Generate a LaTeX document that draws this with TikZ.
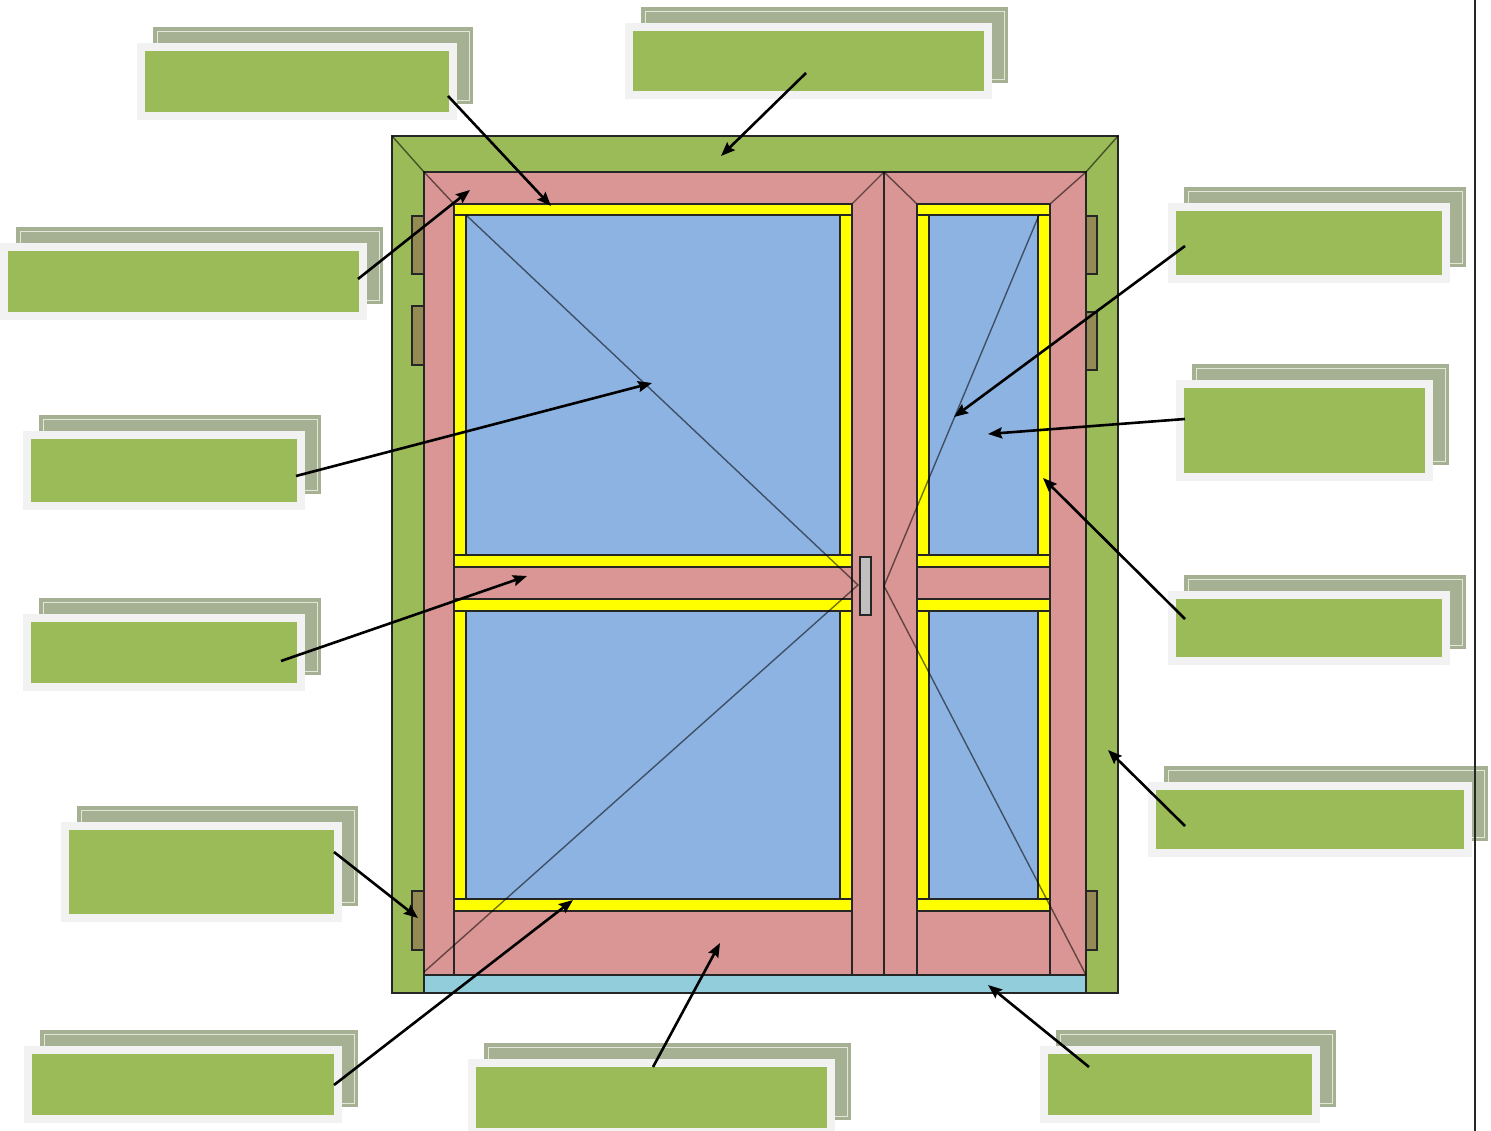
\documentclass[tikz,border=0pt]{standalone}
\usetikzlibrary{arrows.meta}
\definecolor{fgreen}{HTML}{9BBB59}
\definecolor{boxrim}{HTML}{F2F2F2}
\definecolor{shadowc}{HTML}{A6B194}
\definecolor{shadowln}{HTML}{E2E7DA}
\definecolor{pinkc}{HTML}{D99694}
\definecolor{glassc}{HTML}{8DB3E2}
\definecolor{sillc}{HTML}{92CDDC}
\definecolor{hingec}{HTML}{948A54}
\definecolor{handlec}{HTML}{C0C0C0}
\definecolor{yelc}{HTML}{FFFF00}
\definecolor{olc}{HTML}{262626}
\newcommand{\wlbox}[5]{%
  \fill[shadowc] ({#2+16},{#3-16}) rectangle ({#4+16},{#5-16});
  \draw[shadowln, line width=0.8pt] ({#2+20},{#3-12}) rectangle ({#4+12},{#5-20});
  \node[lbox, minimum width={#4-#2-8}, minimum height={#5-#3-8}] (#1) at ({(#2+#4)/2},{(#3+#5)/2}) {};
}
\begin{document}
\begin{tikzpicture}[x=1pt,y=-1pt,
  ol/.style={draw=olc, line width=1.7pt},
  dg/.style={draw=black, line width=1.4pt, opacity=0.55},
  lbox/.style={rectangle, fill=fgreen, draw=boxrim, line width=8pt, inner sep=0pt, outer sep=0pt},
  arr/.style={draw=black, line width=2.6pt, -{Stealth[length=14pt,width=11pt,inset=2pt]}}]
\useasboundingbox (0,0) rectangle (1491,1131);
\fill[white] (0,0) rectangle (1491,1131);

% ---- window ----
\draw[ol, fill=fgreen] (392,136) rectangle (1118,993);
\draw[ol, fill=sillc] (424,975) rectangle (1086,993);
\draw[ol, fill=pinkc] (424,172) rectangle (884,975);
\draw[ol, fill=pinkc] (884,172) rectangle (1086,975);
\draw[ol] (454,204) -- (454,975);
\draw[ol] (852,204) -- (852,975);
\draw[ol] (917,204) -- (917,975);
\draw[ol] (1050,204) -- (1050,975);
% miters
\draw[dg] (392,136) -- (424,172);
\draw[dg] (1118,136) -- (1086,172);
\draw[dg] (424,172) -- (454,204);
\draw[dg] (884,172) -- (852,204);
\draw[dg] (884,172) -- (917,204);
\draw[dg] (1086,172) -- (1050,204);
% glass
\draw[ol, fill=glassc] (466,215) rectangle (840,555);
\draw[ol, fill=glassc] (466,611) rectangle (840,899);
\draw[ol, fill=glassc] (929,215) rectangle (1038,555);
\draw[ol, fill=glassc] (929,611) rectangle (1038,899);
% yellow bars left sash
\draw[ol, fill=yelc] (454,204) rectangle (852,215);
\draw[ol, fill=yelc] (454,215) rectangle (466,555);
\draw[ol, fill=yelc] (840,215) rectangle (852,555);
\draw[ol, fill=yelc] (454,555) rectangle (852,567);
\draw[ol, fill=yelc] (454,599) rectangle (852,611);
\draw[ol, fill=yelc] (454,611) rectangle (466,899);
\draw[ol, fill=yelc] (840,611) rectangle (852,899);
\draw[ol, fill=yelc] (454,899) rectangle (852,911);
% yellow bars right sash
\draw[ol, fill=yelc] (917,204) rectangle (1050,215);
\draw[ol, fill=yelc] (917,215) rectangle (929,555);
\draw[ol, fill=yelc] (1038,215) rectangle (1050,555);
\draw[ol, fill=yelc] (917,555) rectangle (1050,567);
\draw[ol, fill=yelc] (917,599) rectangle (1050,611);
\draw[ol, fill=yelc] (917,611) rectangle (929,899);
\draw[ol, fill=yelc] (1038,611) rectangle (1050,899);
\draw[ol, fill=yelc] (917,899) rectangle (1050,911);
% opening diagonals
\draw[dg] (466,215) -- (858,585) -- (424,972);
\draw[dg] (1039,215) -- (884,586) -- (1086,975);
% hinges
\draw[ol, fill=hingec] (412,216) rectangle (424,274);
\draw[ol, fill=hingec] (412,306) rectangle (424,365);
\draw[ol, fill=hingec] (412,891) rectangle (424,950);
\draw[ol, fill=hingec] (1086,216) rectangle (1097,274);
\draw[ol, fill=hingec] (1086,312) rectangle (1097,370);
\draw[ol, fill=hingec] (1086,891) rectangle (1097,950);
% handle
\draw[ol, fill=handlec] (860,557) rectangle (871,615);

% ---- label boxes ----
\wlbox{b1}{137}{43}{457}{120}
\wlbox{b2}{625}{23}{992}{99}
\wlbox{b3}{0}{243}{367}{320}
\wlbox{b4}{23}{431}{305}{510}
\wlbox{b5}{23}{614}{305}{691}
\wlbox{b6}{61}{822}{342}{922}
\wlbox{b7}{24}{1046}{342}{1123}
\wlbox{b8}{468}{1059}{835}{1136}
\wlbox{b9}{1040}{1046}{1320}{1123}
\wlbox{b10}{1168}{203}{1450}{283}
\wlbox{b11}{1176}{380}{1433}{481}
\wlbox{b12}{1168}{591}{1450}{665}
\wlbox{b13}{1148}{782}{1472}{857}

% ---- arrow targets ----
\coordinate (t1) at (551,206);
\coordinate (t2) at (721,156);
\coordinate (t3) at (470,190);
\coordinate (t4) at (652,383);
\coordinate (t5) at (527,576);
\coordinate (t6) at (418,918);
\coordinate (t7) at (573,900);
\coordinate (t8) at (720,943);
\coordinate (t9) at (988,985);
\coordinate (t10) at (954,417);
\coordinate (t11) at (988,434);
\coordinate (t12) at (1043,478);
\coordinate (t13) at (1108,750);

\draw[arr] ([shift={(-5,14.5)}]b1.east) -- (t1);
\draw[arr] ([shift={(-2.5,-22)}]b2.south) -- (t2);
\draw[arr] ([shift={(-5,-2.5)}]b3.east) -- (t3);
\draw[arr] ([shift={(-5,5.5)}]b4.east) -- (t4);
\draw[arr] ([shift={(-20,8.5)}]b5.east) -- (t5);
\draw[arr] ([shift={(-4,-20)}]b6.east) -- (t6);
\draw[arr] ([shift={(-4,0.5)}]b7.east) -- (t7);
\draw[arr] ([shift={(1.5,4)}]b8.north) -- (t8);
\draw[arr] ([shift={(-91,17)}]b9.north) -- (t9);
\draw[arr] ([shift={(13,3)}]b10.west) -- (t10);
\draw[arr] ([shift={(5,-11.5)}]b11.west) -- (t11);
\draw[arr] ([shift={(13,-9)}]b12.west) -- (t12);
\draw[arr] ([shift={(33,6.5)}]b13.west) -- (t13);

% right border line
\draw[draw=olc, line width=2pt] (1475,0) -- (1475,1131);
\end{tikzpicture}
\end{document}
